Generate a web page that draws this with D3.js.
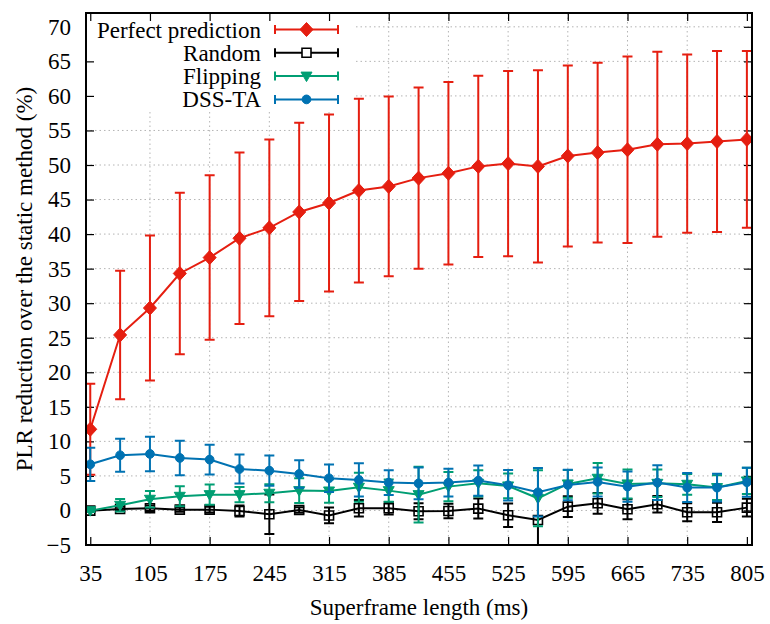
<!DOCTYPE html>
<html>
<head>
<meta charset="utf-8">
<script src="https://cdn.jsdelivr.net/npm/d3@7"></script>
<style>
  body { margin: 0; background: #fff; }
  #chart text { font-family: "Liberation Serif", "Times New Roman", Times, serif !important; }
</style>
</head>
<body>
<svg id="chart" width="770" height="624" style="font-family: 'Liberation Serif', serif"></svg>
<script>
// Superframe length (ms)
const frameLengths = [35, 70, 105, 140, 175, 210, 245, 280, 315, 350, 385, 420,
                      455, 490, 525, 560, 595, 630, 665, 700, 735, 770, 805];

// PLR reduction over the static method (%), mean and standard deviation
const perfectMean = [11.75, 25.4, 29.3, 34.3, 36.6, 39.4, 40.9, 43.2, 44.5, 46.3, 46.9, 48.1,
                     48.8, 49.8, 50.2, 49.8, 51.3, 51.8, 52.2, 53.0, 53.1, 53.4, 53.7];
const perfectErr  = [6.6, 9.3, 10.5, 11.7, 11.9, 12.4, 12.8, 12.9, 12.8, 13.3, 13.0, 13.1,
                     13.2, 13.1, 13.4, 13.9, 13.1, 13.0, 13.5, 13.4, 12.9, 13.1, 12.8];

const randomMean = [-0.03, 0.22, 0.31, 0.12, 0.12, -0.07, -0.55, 0.07, -0.72, 0.31, 0.31, -0.12,
                    -0.07, 0.27, -0.7, -1.38, 0.55, 1.04, 0.17, 0.9, -0.27, -0.27, 0.41];
const randomErr  = [0.2, 0.3, 0.4, 0.3, 0.4, 0.8, 2.85, 0.4, 1.15, 1.2, 0.9, 1.15,
                    1.05, 1.45, 1.7, 4.2, 1.5, 1.5, 1.45, 1.2, 1.3, 1.4, 1.3];

const flippingMean = [-0.03, 0.75, 1.62, 2.05, 2.29, 2.29, 2.49, 2.87, 2.82, 3.36, 2.87, 2.29,
                      3.45, 3.93, 3.55, 1.76, 3.84, 4.66, 3.84, 3.93, 3.79, 3.31, 4.27];
const flippingErr  = [0.2, 0.9, 1.2, 1.45, 1.45, 1.1, 1.3, 1.8, 1.7, 2.1, 1.6, 4.05,
                      2.1, 1.9, 1.8, 4.05, 2.0, 2.2, 2.1, 2.0, 1.5, 1.8, 1.9];

const dssMean = [6.68, 7.99, 8.18, 7.6, 7.36, 6.0, 5.76, 5.28, 4.66, 4.42, 4.03, 3.93,
                 4.03, 4.32, 3.64, 2.63, 3.69, 4.13, 3.45, 4.03, 3.31, 3.31, 4.08];
const dssErr  = [2.4, 2.4, 2.5, 2.5, 2.15, 2.1, 2.2, 2.0, 2.0, 2.4, 1.8, 2.3,
                 2.0, 2.2, 2.2, 3.5, 2.2, 2.1, 2.2, 2.5, 2.1, 2.0, 2.1];

const seriesNames = ["Perfect prediction", "Random", "Flipping", "DSS-TA"];
const seriesColors = ["#e51e10", "#000000", "#009e73", "#0072b2"];
const seriesMarkers = ["diamond", "square", "triangle", "circle"];

const xTicks = [35, 105, 175, 245, 315, 385, 455, 525, 595, 665, 735, 805];
const yTicks = [-5, 0, 5, 10, 15, 20, 25, 30, 35, 40, 45, 50, 55, 60, 65, 70];

const FONT = "'Liberation Serif', 'Times New Roman', Times, serif";
const FONT_SIZE = 23;

const series = [
  { mean: perfectMean, err: perfectErr },
  { mean: randomMean, err: randomErr },
  { mean: flippingMean, err: flippingErr },
  { mean: dssMean, err: dssErr }
].map((s, i) => ({
  name: seriesNames[i], color: seriesColors[i], marker: seriesMarkers[i],
  points: frameLengths.map((f, j) => ({ x: f, y: s.mean[j], e: s.err[j] }))
}));

const svg = d3.select("#chart");
const plot = { left: 86, right: 752, top: 13, bottom: 545 };

const x = d3.scaleLinear().domain([30, 811]).range([plot.left, plot.right]);
const y = d3.scaleLinear().domain([-5, 72]).range([plot.bottom, plot.top]);

svg.append("defs").append("clipPath").attr("id", "plotClip")
  .append("rect").attr("x", plot.left).attr("y", plot.top)
  .attr("width", plot.right - plot.left).attr("height", plot.bottom - plot.top);

// dotted grid
const grid = svg.append("g").attr("stroke", "#b4b4b4").attr("stroke-width", 1)
  .attr("stroke-dasharray", "1.5,3");
grid.selectAll("line.gx").data(xTicks.slice(1, -1)).join("line")
  .attr("x1", d => x(d)).attr("x2", d => x(d))
  .attr("y1", plot.top).attr("y2", plot.bottom);
grid.selectAll("line.gy").data(yTicks.slice(1)).join("line")
  .attr("x1", plot.left).attr("x2", plot.right)
  .attr("y1", d => y(d)).attr("y2", d => y(d));

// legend backdrop hides the grid beneath it
svg.append("rect").attr("x", plot.left + 1).attr("y", plot.top + 1)
  .attr("width", 267).attr("height", 96).attr("fill", "#fff");

// axes (ticks inward, mirrored)
const tickLen = 8;
const axBottom = svg.append("g").attr("transform", `translate(0,${plot.bottom})`)
  .call(d3.axisBottom(x).tickValues(xTicks).tickSizeInner(-tickLen).tickSizeOuter(0).tickPadding(20));
const axTop = svg.append("g").attr("transform", `translate(0,${plot.top})`)
  .call(d3.axisTop(x).tickValues(xTicks).tickSizeInner(-tickLen).tickSizeOuter(0).tickFormat(""));
const axLeft = svg.append("g").attr("transform", `translate(${plot.left},0)`)
  .call(d3.axisLeft(y).tickValues(yTicks).tickSizeInner(-tickLen).tickSizeOuter(0).tickPadding(15));
const axRight = svg.append("g").attr("transform", `translate(${plot.right},0)`)
  .call(d3.axisRight(y).tickValues(yTicks).tickSizeInner(-tickLen).tickSizeOuter(0).tickFormat(""));
[axBottom, axTop, axLeft, axRight].forEach(a => {
  a.attr("font-family", null).attr("font-size", null);
  a.select(".domain").remove();
  a.selectAll(".tick line").attr("stroke", "#000").attr("stroke-width", 1.2);
  a.selectAll("text").style("font-size", FONT_SIZE + "px").style("font-family", FONT).attr("fill", "#000");
});
axLeft.selectAll(".tick").filter(d => d === -5 || d === 70).select("line").remove();
axRight.selectAll(".tick").filter(d => d === -5).select("line").remove();

function markerPath(type) {
  if (type === "diamond") return "M0,-7L6.5,0L0,7L-6.5,0Z";
  if (type === "square") return "M-4.5,-4.5H4.5V4.5H-4.5Z";
  if (type === "triangle") return "M-5.5,-4L5.5,-4L0,5.5Z";
  return d3.symbol(d3.symbolCircle, 60)();
}

const marks = svg.append("g").attr("clip-path", "url(#plotClip)");
const capW = 5;
series.forEach(s => {
  const g = marks.append("g");
  // error bars
  const eb = g.append("g").attr("stroke", s.color).attr("stroke-width", 2).attr("fill", "none");
  eb.selectAll("path").data(s.points).join("path")
    .attr("d", d => {
      const xc = x(d.x), y0 = y(d.y - d.e), y1 = y(d.y + d.e);
      return `M${xc},${y0}V${y1}M${xc - capW},${y1}H${xc + capW}M${xc - capW},${y0}H${xc + capW}`;
    });
  // connecting line
  g.append("path").datum(s.points)
    .attr("fill", "none").attr("stroke", s.color).attr("stroke-width", 2)
    .attr("d", d3.line().x(d => x(d.x)).y(d => y(d.y)));
  // markers
  const open = s.marker === "square";
  g.selectAll("path.m").data(s.points).join("path").attr("class", "m")
    .attr("transform", d => `translate(${x(d.x)},${y(d.y)})`)
    .attr("d", markerPath(s.marker))
    .attr("fill", open ? "none" : s.color)
    .attr("stroke", s.color).attr("stroke-width", open ? 1.6 : 1);
});

// frame
svg.append("rect").attr("x", plot.left).attr("y", plot.top)
  .attr("width", plot.right - plot.left).attr("height", plot.bottom - plot.top)
  .attr("fill", "none").attr("stroke", "#000").attr("stroke-width", 2);

// legend
const legend = svg.append("g");
series.forEach((s, i) => {
  const ly = 29.5 + i * 23.3;
  const row = legend.append("g");
  row.append("text").attr("x", 261).attr("y", ly).attr("dy", "0.35em")
    .attr("text-anchor", "end")
    .style("font-family", FONT).style("font-size", FONT_SIZE + "px")
    .text(s.name);
  const x0 = 275, x1 = 338, xm = (x0 + x1) / 2;
  row.append("path").attr("fill", "none").attr("stroke", s.color).attr("stroke-width", 2)
    .attr("d", `M${x0},${ly}H${x1}M${x0},${ly - 4.5}V${ly + 4.5}M${x1},${ly - 4.5}V${ly + 4.5}`);
  const open = s.marker === "square";
  row.append("path").attr("transform", `translate(${xm},${ly})`)
    .attr("d", markerPath(s.marker))
    .attr("fill", open ? "#fff" : s.color)
    .attr("stroke", s.color).attr("stroke-width", open ? 1.6 : 1);
});

// axis titles
svg.append("text").attr("x", (plot.left + plot.right) / 2).attr("y", 607)
  .attr("dy", "0.35em").attr("text-anchor", "middle")
  .style("font-family", FONT).style("font-size", FONT_SIZE + "px")
  .text("Superframe length (ms)");
svg.append("text")
  .attr("transform", `translate(24,${(plot.top + plot.bottom) / 2}) rotate(-90)`)
  .attr("dy", "0.35em").attr("text-anchor", "middle")
  .style("font-family", FONT).style("font-size", FONT_SIZE + "px")
  .text("PLR reduction over the static method (%)");
</script>
</body>
</html>
